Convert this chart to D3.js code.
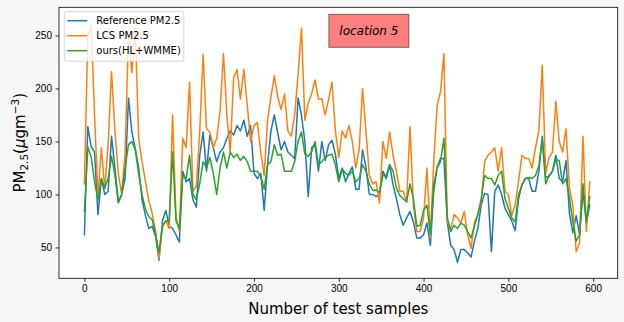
<meta charset="utf-8">
<head>
<title>location 5</title>
<style>
body { margin: 0; background: #f6f6f6; }
svg { display: block; font-family: "DejaVu Sans", sans-serif; }
.tick text { font-size: 10px; fill: #000; }
.tick line { stroke: #000; stroke-width: 0.8; }
.domain { display: none; }
</style>
</head>
<body>
<svg width="624" height="322"></svg>

<script src="https://d3js.org/d3.v7.min.js"></script>
<script>

// sample index of every 4th test sample
var sampleStep = 4;

var refPM = [
62,164,145,140,81,115,100,103,155,125,93,100,115,191,159,143,125,95,80,68,70,
60,38,75,85,70,68,62,55,122,112,115,95,88,137,159,122,156,144,131,140,144,153,160,156,
165,160,170,155,165,120,115,120,85,128,160,175,158,142,150,140,137,134,191,175,150,98,144,147,122,150,132,147,
151,138,115,125,112,120,126,105,105,142,126,100,100,98,100,122,115,128,109,96,81,71,78,84,74,59,
59,62,73,52,103,126,134,134,74,52,48,36,48,48,45,41,56,68,90,101,100,46,103,109,100,87,
81,75,66,96,109,115,115,103,103,122,155,116,117,122,137,115,112,132,82,64,80,62,103,73,90
];

var lcsPM = [
110,249,260,175,98,144,105,147,216,160,120,100,140,250,215,258,153,131,112,94,82,
65,40,70,75,68,175,80,65,153,144,206,103,108,159,232,162,159,144,153,178,233,175,140,210,
218,190,218,185,150,165,168,140,118,170,192,212,192,180,195,160,155,175,213,257,170,186,195,208,190,190,175,190,
206,160,135,160,153,165,150,125,142,200,160,118,110,112,92,150,134,159,137,122,103,103,93,164,90,65,
65,78,125,59,131,184,197,233,74,68,81,78,73,84,62,49,74,81,93,131,137,140,144,122,144,103,
100,80,90,112,137,134,134,125,144,160,222,120,135,140,188,150,140,162,106,90,46,55,155,65,112
];

var oursPM = [
84,145,135,112,95,115,106,115,136,118,92,100,125,147,150,142,120,100,86,79,76,
62,45,70,75,75,140,75,68,118,115,137,100,95,110,131,125,135,120,100,125,140,125,140,135,
138,132,136,131,122,122,122,117,105,128,131,147,137,138,122,122,122,131,150,159,138,136,140,150,128,131,135,137,
138,128,112,124,120,118,122,112,115,128,122,110,104,104,102,118,118,128,122,106,99,96,93,110,96,70,
71,85,90,62,109,125,131,153,78,65,71,68,73,71,65,59,70,81,96,118,115,115,109,118,122,96,
87,78,74,100,109,115,116,115,118,127,152,110,118,122,133,132,110,115,97,74,56,62,110,74,98
];

var seriesNames = ["Reference PM2.5", "LCS PM2.5", "ours(HL+WMME)"];
var seriesColors = ["#1f77b4", "#ff7f0e", "#2ca02c"];
var xTicks = [0, 100, 200, 300, 400, 500, 600];
var yTicks = [50, 100, 150, 200, 250];
var xLimits = [-29.95, 628.95];
var yLimits = [20.9, 276.6];

var svg = d3.select("svg"),
    margin = {top: 7.3, right: 6.3, bottom: 43.7, left: 59},
    width = +svg.attr("width") - margin.left - margin.right,
    height = +svg.attr("height") - margin.top - margin.bottom;

var x = d3.scaleLinear().domain(xLimits).range([0, width]),
    y = d3.scaleLinear().domain(yLimits).range([height, 0]);

var g = svg.append("g")
    .attr("transform", "translate(" + margin.left + "," + margin.top + ")");

g.append("rect")
    .attr("width", width)
    .attr("height", height)
    .attr("fill", "#fff");

g.append("g")
    .attr("class", "axis axis--x")
    .attr("transform", "translate(0," + height + ")")
    .call(d3.axisBottom(x).tickValues(xTicks).tickSize(3.5).tickPadding(3.5))
    .selectAll("text").attr("dy", "0.72em");

g.append("g")
    .attr("class", "axis axis--y")
    .call(d3.axisLeft(y).tickValues(yTicks).tickSize(3.5).tickPadding(3.5));

var line = d3.line()
    .x(function(d, i) { return x(i * sampleStep); })
    .y(function(d) { return y(d); });

[refPM, lcsPM, oursPM].forEach(function(vals, k) {
  g.append("path")
      .datum(vals)
      .attr("fill", "none")
      .attr("stroke", seriesColors[k])
      .attr("stroke-width", 1.5)
      .attr("stroke-linejoin", "round")
      .attr("stroke-linecap", "square")
      .attr("d", line);
});

// frame
g.append("rect")
    .attr("width", width)
    .attr("height", height)
    .attr("fill", "none")
    .attr("stroke", "#000")
    .attr("stroke-width", 0.8);

/*legend*/
var legend = g.append("g").attr("transform", "translate(5.3,4.4)");
legend.append("rect")
    .attr("width", 119.5)
    .attr("height", 49.5)
    .attr("rx", 2)
    .attr("fill", "#fff")
    .attr("fill-opacity", 0.8)
    .attr("stroke", "#ccc")
    .attr("stroke-width", 0.8);

var rows = legend.selectAll(".row")
    .data(seriesNames)
    .enter().append("g")
    .attr("class", "row")
    .attr("transform", function(d, i) { return "translate(0," + (9 + i * 15) + ")"; });
rows.append("line")
    .attr("x1", 3).attr("x2", 23)
    .attr("stroke", function(d, i) { return seriesColors[i]; })
    .attr("stroke-width", 1.5);
rows.append("text")
    .attr("x", 32)
    .attr("dy", "0.35em")
    .style("font-size", "10px")
    .text(function(d) { return d; });

/*location box, placed in axes fraction*/
var loc = g.append("g").attr("transform", "translate(" + (0.483 * width) + ",7)");
loc.append("rect")
    .attr("width", 80)
    .attr("height", 33)
    .attr("fill", "red")
    .attr("fill-opacity", 0.5)
    .attr("stroke", "#000")
    .attr("stroke-opacity", 0.5)
    .attr("stroke-width", 1);
loc.append("text")
    .attr("x", 40)
    .attr("y", 16.5)
    .attr("dy", "0.35em")
    .attr("text-anchor", "middle")
    .style("font-size", "12px")
    .style("font-style", "italic")
    .text("location 5");

/*axis titles*/
svg.append("text")
    .attr("x", margin.left + width / 2)
    .attr("y", 313.5)
    .attr("text-anchor", "middle")
    .style("font-size", "15px")
    .text("Number of test samples");

var ylab = svg.append("text")
    .attr("transform", "translate(24.5," + (margin.top + height / 2) + ") rotate(-90)")
    .attr("text-anchor", "middle")
    .style("font-size", "15px");
ylab.append("tspan").text("PM");
ylab.append("tspan").attr("dy", 3).style("font-size", "10.5px").text("2.5");
ylab.append("tspan").attr("dy", -3).text("(");
ylab.append("tspan").style("font-style", "italic").text("\u03bc");
ylab.append("tspan").text("gm");
ylab.append("tspan").attr("dy", -6).style("font-size", "10.5px").text("\u22123");
ylab.append("tspan").attr("dy", 6).text(")");

</script>
</body>
